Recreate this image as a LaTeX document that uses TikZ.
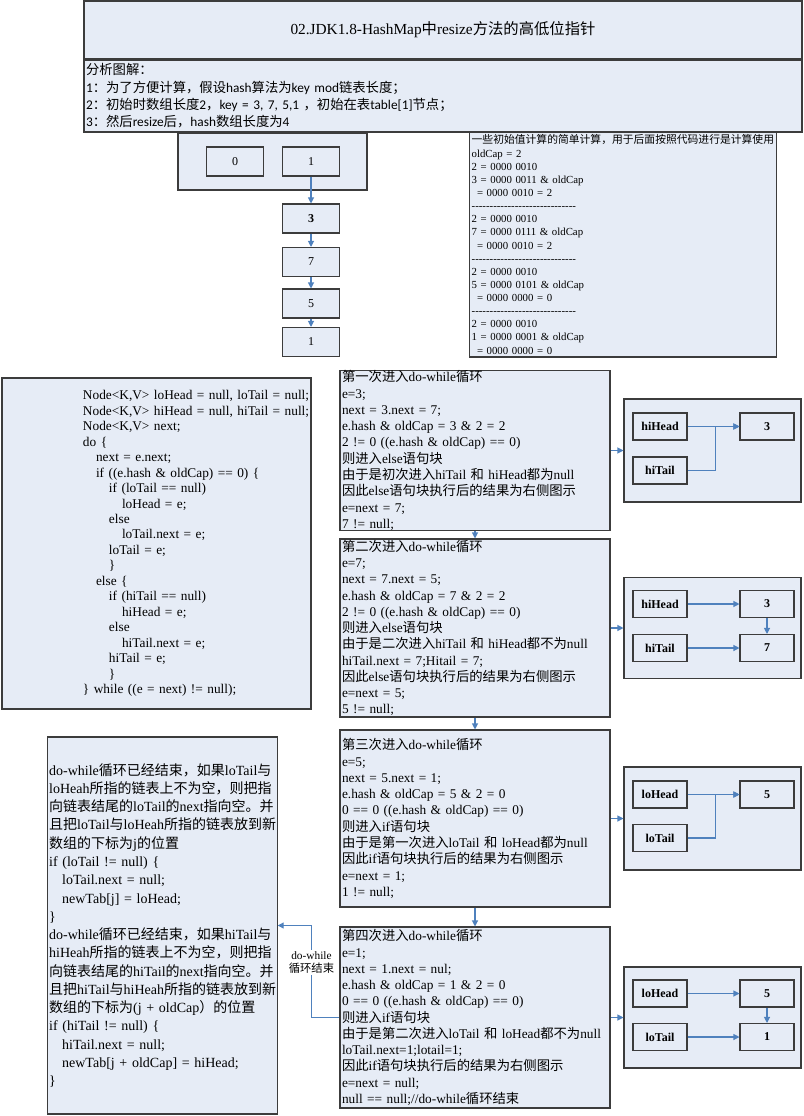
\documentclass[tikz,border=0pt]{standalone}
\usepackage{fontspec}
\setmainfont{Liberation Serif}
\newfontfamily\zhfont{Noto Sans CJK SC}
\newfontfamily\calfont{Carlito}
\usetikzlibrary{arrows.meta}

\definecolor{boxfill}{RGB}{230,236,246}
\definecolor{boxline}{RGB}{60,60,60}
\definecolor{arrowblue}{RGB}{79,129,189}

% hanzi and full-width punctuation switch to the CJK font by themselves
\XeTeXinterchartokenstate=1
\chardef\hanzi=7
\count255="3000
\loop\ifnum\count255<"3040 \XeTeXcharclass\count255=\hanzi\advance\count255 by 1 \repeat
\count255="4E00
\loop\ifnum\count255<"A000 \XeTeXcharclass\count255=\hanzi\advance\count255 by 1 \repeat
\count255="FF00
\loop\ifnum\count255<"FFF0 \XeTeXcharclass\count255=\hanzi\advance\count255 by 1 \repeat
\XeTeXinterchartoks 0 \hanzi={\begingroup\zhfont}
\XeTeXinterchartoks 4095 \hanzi={\begingroup\zhfont}
\XeTeXinterchartoks \hanzi 0={\endgroup}
\XeTeXinterchartoks \hanzi 4095={\endgroup}

\newcommand{\ind}{\hspace*{9.75pt}}
\newcommand{\dashrow}{-{}-{}-{}-{}-{}-{}-{}-{}-{}-{}-{}-{}-{}-{}-{}-{}-{}-{}-{}-{}-{}-{}-{}-{}-{}-{}-{}-{}-}

\begin{document}
\begin{tikzpicture}[x=0.75pt,y=-0.75pt,
    box/.style={draw=boxline, fill=boxfill, line width=0.8pt, inner sep=0pt},
    cell/.style={box, minimum width=42.75pt, minimum height=21.75pt, font=\fontsize{9}{10}\selectfont},
    ptr/.style={box, minimum width=40.5pt, minimum height=20.25pt, font=\fontsize{9}{10}\selectfont\bfseries},
    stepbox/.style={box, minimum width=202.5pt, text width=199.5pt, inner xsep=1.5pt, align=left, font=\fontsize{10}{12.2}\selectfont},
    state/.style={box, minimum width=132.75pt},
    arr/.style={draw=arrowblue, line width=0.8pt, -{Triangle[length=4.5pt,width=4.5pt]}}]

\useasboundingbox (0,0) rectangle (803,1116);

    \node[box, minimum width=538.5pt, minimum height=43.5pt, font=\fontsize{11.5}{13}\selectfont] (1) at (443,30) {02.JDK1.8-HashMap中resize方法的高低位指针};
    \node[box, minimum width=538.5pt, minimum height=54pt, text width=535.5pt, inner xsep=1.5pt, align=left, font=\calfont\fontsize{10}{13}\selectfont] (2) at (443,96) {分析图解：\\1：为了方便计算，假设hash算法为key mod链表长度；\\2：初始时数组长度2，key = 3, 7, 5,1 ，初始在表table[1]节点；\\3：然后resize后，hash数组长度为4};

    % table and its chain
    \node[box, minimum width=141.75pt, minimum height=42.75pt] (3) at (272.5,161.5) {};
    \node[cell] (4) at (235,161.5) {0};
    \node[cell] (5) at (311,161.5) {1};
    \node[cell, font=\fontsize{9}{10}\selectfont\bfseries] (6) at (311,218.5) {3};
    \node[cell] (7) at (311,262) {7};
    \node[cell] (8) at (311,303.5) {5};
    \node[cell] (9) at (311,342) {1};

\draw[arr] (5) -- (6);
\draw[arr] (6) -- (7);
\draw[arr] (7) -- (8);
\draw[arr] (8) -- (9);

    \node[box, minimum width=229.5pt, minimum height=168.75pt, text width=227pt, inner xsep=1.5pt, align=left, font=\fontsize{8.1}{9.85}\selectfont] (10) at (623,244.5) {一些初始值计算的简单计算，用于后面按照代码进行是计算使用\\oldCap = 2\\2 = 0000 0010\\3 = 0000 0011 \& oldCap\\\hspace*{4pt}= 0000 0010 = 2\\\dashrow\\2 = 0000 0010\\7 = 0000 0111 \& oldCap\\\hspace*{4pt}= 0000 0010 = 2\\\dashrow\\2 = 0000 0010\\5 = 0000 0101 \& oldCap\\\hspace*{4pt}= 0000 0000 = 0\\\dashrow\\2 = 0000 0010\\1 = 0000 0001 \& oldCap\\\hspace*{4pt}= 0000 0000 = 0};

    % the loop in the source
    \node[box, minimum width=231.75pt, minimum height=248.25pt, text width=231.75pt, align=left, font=\fontsize{10}{11.6}\selectfont] (11) at (156.5,543.5) {\leftskip=60.75pt
Node<K,V> loHead = null, loTail = null;\\
Node<K,V> hiHead = null, hiTail = null;\\
Node<K,V> next;\\
do \{\\
\ind next = e.next;\\
\ind if ((e.hash \& oldCap) == 0) \{\\
\ind\ind if (loTail == null)\\
\ind\ind\ind loHead = e;\\
\ind\ind else\\
\ind\ind\ind loTail.next = e;\\
\ind\ind loTail = e;\\
\ind\ind \}\\
\ind else \{\\
\ind\ind if (hiTail == null)\\
\ind\ind\ind hiHead = e;\\
\ind\ind else\\
\ind\ind\ind hiTail.next = e;\\
\ind\ind hiTail = e;\\
\ind\ind \}\\
\} while ((e = next) != null);\par};

    % the four passes
    \node[stepbox, minimum height=119.25pt] (12) at (475,450.5) {第一次进入do-while循环\\e=3;\\next = 3.next = 7;\\e.hash \& oldCap = 3 \& 2 = 2\\2 != 0 ((e.hash \& oldCap) == 0)\\则进入else语句块\\由于是初次进入hiTail 和 hiHead都为null\\因此else语句块执行后的结果为右侧图示\\e=next = 7;\\7 != null;};
    \node[stepbox, minimum height=133.5pt] (13) at (475,628) {第二次进入do-while循环\\e=7;\\next = 7.next = 5;\\e.hash \& oldCap = 7 \& 2 = 2\\2 != 0 ((e.hash \& oldCap) == 0)\\则进入else语句块\\由于是二次进入hiTail 和 hiHead都不为null\\hiTail.next = 7;Hitail = 7;\\因此else语句块执行后的结果为右侧图示\\e=next = 5;\\5 != null;};
    \node[stepbox, minimum height=132.75pt] (14) at (475,818.5) {第三次进入do-while循环\\e=5;\\next = 5.next = 1;\\e.hash \& oldCap = 5 \& 2 = 0\\0 == 0 ((e.hash \& oldCap) == 0)\\则进入if语句块\\由于是第一次进入loTail 和 loHead都为null\\因此if语句块执行后的结果为右侧图示\\e=next = 1;\\1 != null;};
    \node[stepbox, minimum height=135.75pt] (15) at (475,1017.5) {第四次进入do-while循环\\e=1;\\next = 1.next = nul;\\e.hash \& oldCap = 1 \& 2 = 0\\0 == 0 ((e.hash \& oldCap) == 0)\\则进入if语句块\\由于是第二次进入loTail 和 loHead都不为null\\loTail.next=1;lotail=1;\\因此if语句块执行后的结果为右侧图示\\e=next = null;\\null == null;//do-while循环结束};

\draw[arr] (12) -- (13);
\draw[arr] (13) -- (14);
\draw[arr] (14) -- (15);

    % state after each pass
    \node[state, minimum height=77.25pt] (16) at (712.5,450.5) {};
    \node[ptr] (17) at (660,426.5) {hiHead};
    \node[ptr] (18) at (660,470.5) {hiTail};
    \node[ptr] (19) at (767,426.5) {3};

    \node[state, minimum height=75.75pt] (20) at (712.5,628) {};
    \node[ptr] (21) at (660,604) {hiHead};
    \node[ptr] (22) at (660,648) {hiTail};
    \node[ptr] (23) at (767,604) {3};
    \node[ptr] (24) at (767,648) {7};

    \node[state, minimum height=77.25pt] (25) at (712.5,818.5) {};
    \node[ptr] (26) at (660,794.5) {loHead};
    \node[ptr] (27) at (660,838) {loTail};
    \node[ptr] (28) at (767,794.5) {5};

    \node[state, minimum height=75.75pt] (29) at (712.5,1017.5) {};
    \node[ptr] (30) at (660,993.5) {loHead};
    \node[ptr] (31) at (660,1037) {loTail};
    \node[ptr] (32) at (767,993.5) {5};
    \node[ptr] (33) at (767,1037) {1};

\draw[arr] (12) -- (16);
\draw[arr] (13) -- (20);
\draw[arr] (14) -- (25);
\draw[arr] (15) -- (29);

\draw[arr] (17) -- (19);
\draw[arr] (18.east) -- ++(28,0) |- (19.west);
\draw[arr] (21) -- (23);
\draw[arr] (22) -- (24);
\draw[arr] (23) -- (24);
\draw[arr] (26) -- (28);
\draw[arr] (27.east) -- ++(28,0) |- (28.west);
\draw[arr] (30) -- (32);
\draw[arr] (31) -- (33);
\draw[arr] (32) -- (33);

    % after the loop
    \node[box, minimum width=171.75pt, minimum height=282.75pt, text width=170pt, inner xsep=1pt, align=left, font=\fontsize{10.5}{13.7}\selectfont] (34) at (162.5,925.5) {do-while循环已经结束，如果loTail与\\loHeah所指的链表上不为空，则把指\\向链表结尾的loTail的next指向空。并\\且把loTail与loHeah所指的链表放到新\\数组的下标为j的位置\\if (loTail != null) \{\\\ind loTail.next = null;\\\ind newTab[j] = loHead;\\\}\\do-while循环已经结束，如果hiTail与\\hiHeah所指的链表上不为空，则把指\\向链表结尾的hiTail的next指向空。并\\且把hiTail与hiHeah所指的链表放到新\\数组的下标为(j + oldCap）的位置\\if (hiTail != null) \{\\\ind hiTail.next = null;\\\ind newTab[j + oldCap] = hiHead;\\\}};

\draw[arr] (15.west) -- ++(-28,0) |- (34.east) node[pos=0.3, fill=white, inner sep=1pt, align=center, font=\fontsize{8.5}{10}\selectfont] (35) {do-while\\循环结束};
\end{tikzpicture}
\end{document}
